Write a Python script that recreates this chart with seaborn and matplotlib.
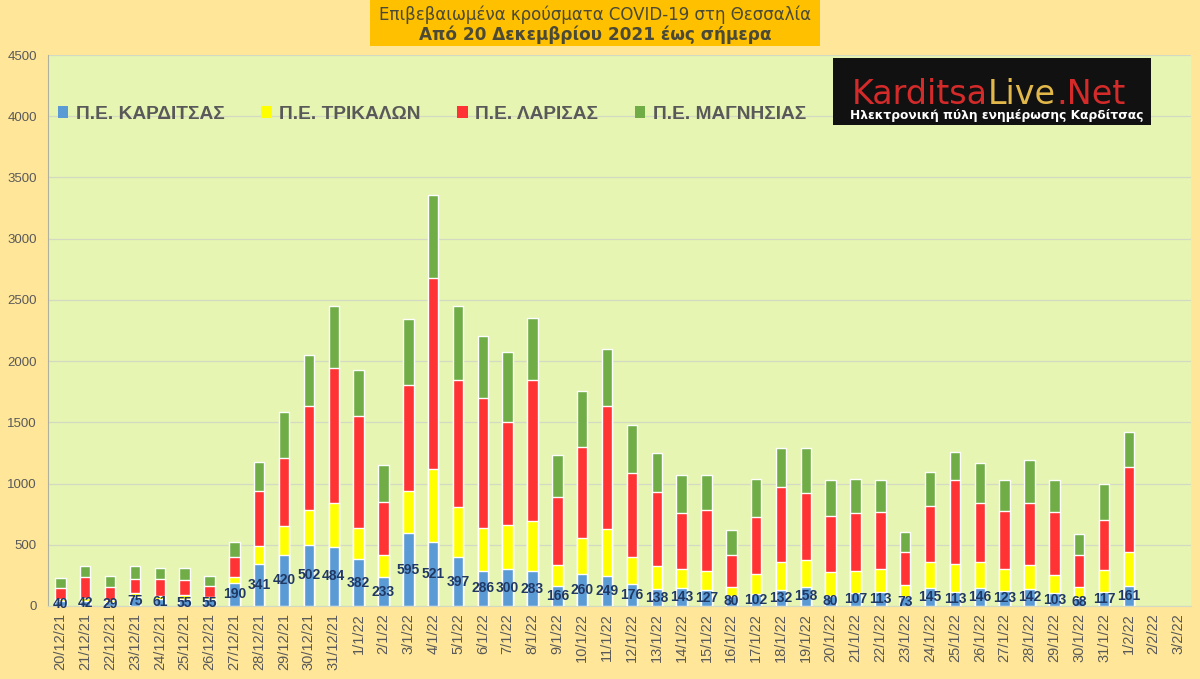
import matplotlib
matplotlib.use("Agg")
import matplotlib.pyplot as plt
from matplotlib.patches import Patch, Rectangle
from matplotlib import font_manager
import seaborn as sns
import pandas as pd
import numpy as np

# --- DATA ---
dates = ["20/12/21", "21/12/21", "22/12/21", "23/12/21", "24/12/21", "25/12/21",
         "26/12/21", "27/12/21", "28/12/21", "29/12/21", "30/12/21", "31/12/21"] + \
        [f"{d}/1/22" for d in range(1, 32)] + ["1/2/22", "2/2/22", "3/2/22"]

karditsa = [40, 42, 29, 75, 61, 55, 55, 190, 341, 420, 502, 484,
            382, 233, 595, 521, 397, 286, 300, 283, 166, 260, 249, 176, 138, 143, 127,
            80, 102, 132, 158, 80, 107, 113, 73, 145, 113, 146, 123, 142, 103, 68, 117,
            161]
trikala = [18, 24, 23, 32, 24, 38, 15, 43, 151, 231, 286, 359,
           258, 185, 342, 598, 409, 351, 359, 409, 169, 298, 380, 224, 189, 162, 159,
           78, 159, 225, 220, 195, 179, 192, 96, 212, 233, 211, 182, 193, 148, 90, 177,
           280]
larisa = [93, 167, 102, 115, 137, 118, 90, 165, 445, 560, 846, 1099,
          909, 428, 867, 1563, 1038, 1060, 847, 1152, 558, 744, 1005, 689, 607, 452, 498,
          261, 464, 618, 548, 460, 471, 463, 275, 460, 683, 482, 471, 504, 517, 261, 409,
          692]
magnesia = [80, 91, 88, 102, 91, 102, 83, 127, 241, 371, 413, 510,
            379, 302, 540, 678, 605, 511, 567, 511, 341, 457, 468, 387, 314, 311, 284,
            199, 313, 313, 362, 292, 281, 259, 163, 280, 229, 332, 251, 354, 259, 169, 291,
            291]

series_names = ["Π.Ε. ΚΑΡΔΙΤΣΑΣ", "Π.Ε. ΤΡΙΚΑΛΩΝ", "Π.Ε. ΛΑΡΙΣΑΣ", "Π.Ε. ΜΑΓΝΗΣΙΑΣ"]
colors = ["#5B9BD5", "#FFFF00", "#FF3333", "#70AD47"]

title1 = "Επιβεβαιωμένα κρούσματα COVID-19 στη Θεσσαλία"
title2 = "Από 20 Δεκεμβρίου 2021 έως σήμερα"

# --- STYLE ---
sns.set_style("white")
names = {f.name for f in font_manager.fontManager.ttflist}
if "Liberation Sans Narrow" in names:
    NARROW, LEG_SIZE, LAB_SIZE = "Liberation Sans Narrow", 16.5, 11
else:
    NARROW, LEG_SIZE, LAB_SIZE = "Liberation Sans", 13.8, 10
plt.rcParams["font.family"] = ["Liberation Sans", "DejaVu Sans"]

GREY = "#595959"
W, H = 1200, 679

n = len(karditsa)
pad = [np.nan] * (len(dates) - n)
df = pd.DataFrame({
    "date": dates,
    "k": karditsa + pad,
    "t": trikala + pad,
    "l": larisa + pad,
    "m": magnesia + pad,
})
df["c1"] = df["k"]
df["c2"] = df["c1"] + df["t"]
df["c3"] = df["c2"] + df["l"]
df["c4"] = df["c3"] + df["m"]

fig = plt.figure(figsize=(W / 100, H / 100), dpi=100)
fig.patch.set_facecolor("#FFE699")
ax = fig.add_axes([48 / W, 1 - 606 / H, (1191 - 48) / W, (606 - 55) / H])
ax.set_facecolor("#E6F5B1")

# stacked bars: draw cumulative totals from the top layer down
for col, c in zip(["c4", "c3", "c2", "c1"], colors[::-1]):
    sns.barplot(data=df, x="date", y=col, order=dates, color=c, saturation=1,
                width=0.42, ax=ax, zorder=3)

ax.bar_label(ax.containers[-1], labels=[str(v) for v in karditsa], label_type="center",
             color="#203864", fontsize=LAB_SIZE, fontweight="bold", family=[NARROW, "DejaVu Sans"])

ax.set_ylim(0, 4500)
ax.set_yticks(range(0, 4501, 500))
ax.set_xlim(-0.5, len(dates) - 0.5)
ax.set_xlabel("")
ax.set_ylabel("")
ax.yaxis.grid(True, color="#D4D9C4", linewidth=0.9, zorder=0)
ax.set_axisbelow(True)
ax.tick_params(axis="y", length=0, pad=8, labelsize=9.5, labelcolor=GREY)
ax.tick_params(axis="x", length=0, pad=5, labelsize=10.5, labelcolor=GREY, rotation=90)
for s in ["top", "right"]:
    ax.spines[s].set_visible(False)
ax.spines["left"].set_color("#B0B0A0")
ax.spines["bottom"].set_color("#D4D9C4")

handles = [Patch(facecolor=c, edgecolor="none") for c in colors]
leg = ax.legend(handles, series_names, ncol=4, loc="upper left",
                bbox_to_anchor=(2 / (1191 - 48), 1 - 43 / 551), frameon=False,
                handlelength=0.55, handleheight=0.55, handletextpad=0.4,
                columnspacing=1.9, borderaxespad=0,
                prop={"family": [NARROW, "DejaVu Sans"], "size": LEG_SIZE, "weight": "bold"})
for t in leg.get_texts():
    t.set_color(GREY)

# title box
fig.patches.append(Rectangle((370 / W, 1 - 46 / H), 450 / W, 46 / H,
                             transform=fig.transFigure, facecolor="#FFC000",
                             edgecolor="none", zorder=0))
fig.text(595 / W, 1 - 15 / H, title1, ha="center", va="center", fontsize=12,
         color="#4A4A36", family="DejaVu Sans")
fig.text(595 / W, 1 - 35 / H, title2, ha="center", va="center", fontsize=12.2,
         color="#4A4A36", family="DejaVu Sans", fontweight="bold")

# site logo box
fig.patches.append(Rectangle((833 / W, 1 - 125 / H), 318 / W, 67 / H,
                             transform=fig.transFigure, facecolor="#111111",
                             edgecolor="none", zorder=5))
renderer = fig.canvas.get_renderer()
x = 852 / W
for part, c in [("Karditsa", "#D42A2A"), ("Live", "#E2B84A"), (".Net", "#D42A2A")]:
    t = fig.text(x, 1 - 104 / H, part, ha="left", va="baseline", fontsize=24,
                 color=c, family="DejaVu Sans", zorder=6)
    x += t.get_window_extent(renderer).width / W
fig.text(997 / W, 1 - 115 / H, "Ηλεκτρονική πύλη ενημέρωσης Καρδίτσας", ha="center",
         va="center", fontsize=8.8, color="white", family="DejaVu Sans",
         fontweight="bold", zorder=6)

fig.savefig("out.png", dpi=100, facecolor=fig.get_facecolor())
